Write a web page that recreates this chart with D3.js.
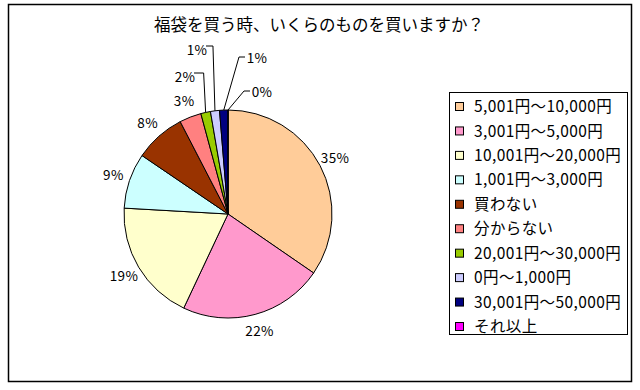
<!DOCTYPE html>
<html>
<head>
<meta charset="utf-8">
<script src="https://cdn.jsdelivr.net/npm/d3@7"></script>
<style>
  body { margin: 0; background: #fff; }
  text { font-family: "Noto Sans CJK JP", "Noto Sans", sans-serif; fill: #000; }
</style>
</head>
<body>
<div id="chart"></div>
<script>
var title = '福袋を買う時、いくらのものを買いますか？';

var categories = [
  '5,001円～10,000円',
  '3,001円～5,000円',
  '10,001円～20,000円',
  '1,001円～3,000円',
  '買わない',
  '分からない',
  '20,001円～30,000円',
  '0円～1,000円',
  '30,001円～50,000円',
  'それ以上'
];

// share of answers, percent
var shares = [34.6, 22.4, 18.9, 8.6, 7.9, 3.4, 1.5, 1.4, 1.3, 0];

var colors = [
  '#FFCC99', '#FF99CC', '#FFFFCC', '#CCFFFF', '#993300',
  '#FF8080', '#99CC00', '#CCCCFF', '#000080', '#FF00FF'
];

// labels moved by hand in the original, with leader lines (index -> spot)
var movedLabels = {
  6: { x: 185, y: 77, side: 'left' },
  7: { x: 197, y: 50, side: 'left' },
  8: { x: 257, y: 58, side: 'right' },
  9: { x: 262, y: 92, side: 'right' }
};

var width = 640, height = 390,
    cx = 228, cy = 214, radius = 104;

var svg = d3.select('#chart')
  .append('svg')
    .attr('width', width)
    .attr('height', height);

svg.append('rect')
  .attr('x', 8.5).attr('y', 4.5)
  .attr('width', 623).attr('height', 377)
  .attr('fill', '#fff')
  .attr('stroke', '#000')
  .attr('stroke-width', 1.5);

svg.append('text')
  .attr('x', 319).attr('y', 31)
  .attr('text-anchor', 'middle')
  .style('font-size', '16.5px')
  .text(title);

var slices = categories.map(function (c, i) {
  return { name: c, value: shares[i], color: colors[i], idx: i };
});

var pie = d3.pie()
  .sort(null)
  .value(function (d) { return d.value; });

var arc = d3.arc().innerRadius(0).outerRadius(radius);
var labelArc = d3.arc().innerRadius(121).outerRadius(121);
var edgeArc = d3.arc().innerRadius(radius).outerRadius(radius);

var arcs = pie(slices);

var g = svg.append('g')
  .attr('transform', 'translate(' + cx + ',' + cy + ')');

g.selectAll('path.slice')
  .data(arcs)
  .enter().append('path')
    .classed('slice', true)
    .attr('d', arc)
    .attr('fill', function (d) { return d.data.color; })
    .attr('stroke', '#000')
    .attr('stroke-width', 1)
    .attr('stroke-linejoin', 'round');

// leader lines
arcs.forEach(function (d, i) {
  var m = movedLabels[i];
  if (!m) return;
  var p = edgeArc.centroid(d);
  var ex = p[0] + cx, ey = p[1] + cy;
  var pts;
  if (m.side === 'left') {
    pts = [[m.x + 9, m.y - 4], [ex - 2, m.y - 4], [ex, ey]];
  } else {
    pts = [[m.x - 12, m.y - 1], [m.x - 18, m.y - 1], [ex, ey]];
  }
  svg.append('path')
    .attr('d', d3.line()(pts))
    .attr('fill', 'none')
    .attr('stroke', '#000')
    .attr('stroke-width', 1);
});

svg.selectAll('text.pct')
  .data(arcs)
  .enter().append('text')
    .classed('pct', true)
    .attr('x', function (d, i) {
      return movedLabels[i] ? movedLabels[i].x : labelArc.centroid(d)[0] + cx;
    })
    .attr('y', function (d, i) {
      return movedLabels[i] ? movedLabels[i].y : labelArc.centroid(d)[1] + cy;
    })
    .attr('dy', '0.36em')
    .attr('text-anchor', 'middle')
    .style('font-size', '13.5px')
    .style('letter-spacing', '0.4px')
    .text(function (d) { return Math.round(d.data.value) + '%'; });

// legend
svg.append('rect')
  .attr('x', 449.5).attr('y', 92.5)
  .attr('width', 178).attr('height', 242)
  .attr('fill', '#fff')
  .attr('stroke', '#000')
  .attr('stroke-width', 1);

var rowY = d3.scalePoint()
  .domain(categories)
  .range([106.5, 326.5]);

var lg = svg.selectAll('g.legend-item')
  .data(slices)
  .enter().append('g')
    .classed('legend-item', true)
    .attr('transform', function (d) { return 'translate(0,' + rowY(d.name) + ')'; });

lg.append('rect')
  .attr('x', 455.5).attr('y', -4)
  .attr('width', 8).attr('height', 8)
  .attr('fill', function (d) { return d.color; })
  .attr('stroke', '#000')
  .attr('stroke-width', 1);

lg.append('text')
  .attr('x', 474)
  .attr('dy', '0.36em')
  .style('font-size', '15.5px')
  .style('letter-spacing', '0.4px')
  .text(function (d) { return d.name; });
</script>
</body>
</html>
